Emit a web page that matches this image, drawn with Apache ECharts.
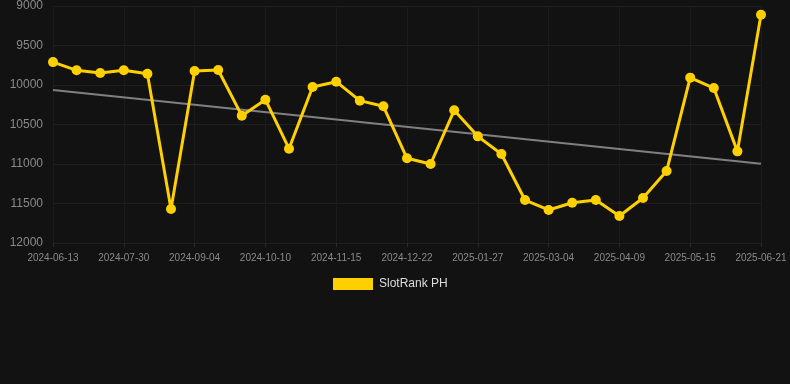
<!DOCTYPE html>
<html><head><meta charset="utf-8">
<script src="https://cdn.jsdelivr.net/npm/echarts@6/dist/echarts.min.js"></script>
<style>html,body{margin:0;padding:0;background:#121212;}#c{width:790px;height:384px;}</style>
</head><body><div id="c"></div>
<script>
const categories = ['2024-06-13','2024-06-29','2024-07-14','2024-07-30','2024-08-11','2024-08-23','2024-09-04','2024-09-16','2024-09-28','2024-10-10','2024-10-22','2024-11-03','2024-11-15','2024-11-27','2024-12-10','2024-12-22','2025-01-03','2025-01-15','2025-01-27','2025-02-08','2025-02-20','2025-03-04','2025-03-16','2025-03-28','2025-04-09','2025-04-21','2025-05-03','2025-05-15','2025-05-27','2025-06-09','2025-06-21'];
const rankValues = [9710,9814,9848,9814,9857,11570,9823,9810,10388,10186,10806,10025,9958,10198,10270,10928,11000,10320,10650,10873,11456,11582,11490,11456,11658,11430,11089,9907,10038,10840,9110];
const trendStart = 10063;
const trendEnd = 10996;
const yTicks = [9000,9500,10000,10500,11000,11500,12000];
const seriesName = 'SlotRank PH';

const trendData = categories.map((c,i)=> i===0 ? trendStart : (i===categories.length-1 ? trendEnd : null));

const chart = echarts.init(document.getElementById('c'));
chart.setOption({
  backgroundColor:'#121212',
  animation:false,
  textStyle:{fontFamily:'Liberation Sans, Arial, sans-serif'},
  grid:{left:53,right:29,top:6,bottom:141,containLabel:false},
  legend:{
    data:[seriesName],
    top:278,
    left:333,
    padding:0,
    itemWidth:40,itemHeight:12,
    icon:'rect',
    textStyle:{color:'#dddddd',fontSize:12,padding:[0,0,0,1]},
  },
  xAxis:{
    type:'category',
    data:categories,
    boundaryGap:false,
    axisLine:{show:false},
    axisTick:{show:true,interval:2,length:4,lineStyle:{color:'#2a2a2a'}},
    axisLabel:{interval:2,color:'#8a8a8a',fontSize:10,margin:10},
    splitLine:{show:true,interval:2,lineStyle:{color:'#1b1b1b'}}
  },
  yAxis:{
    type:'value',
    inverse:true,
    min:yTicks[0],max:yTicks[yTicks.length-1],interval:500,
    axisLine:{show:false},axisTick:{show:false},
    axisLabel:{color:'#8a8a8a',fontSize:12,margin:10,formatter:(v)=>String(v)},
    splitLine:{lineStyle:{color:'#1f1f1f'}}
  },
  series:[
    {
      name:'Trend',type:'line',data:trendData,connectNulls:true,
      symbol:'none',lineStyle:{color:'#808080',width:2},z:1,silent:true
    },
    {
      name:seriesName,type:'line',data:rankValues,
      symbol:'circle',symbolSize:10,
      itemStyle:{color:'#FFD000'},
      lineStyle:{color:'#FFD000',width:3},z:2
    }
  ]
});
</script></body></html>
